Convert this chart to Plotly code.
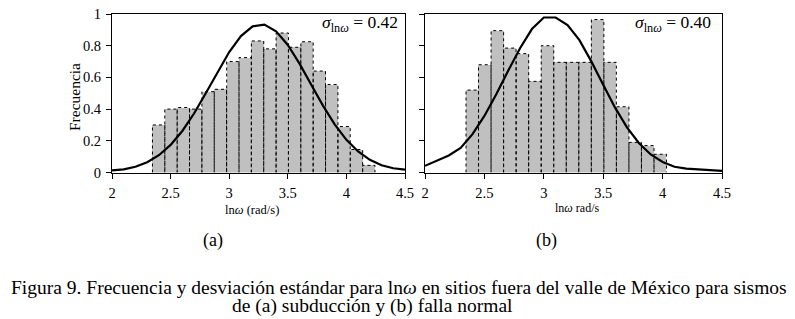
import plotly.graph_objects as go

# ---------------- data ----------------
x_ticks = [2, 2.5, 3, 3.5, 4, 4.5]
y_ticks = [0, 0.2, 0.4, 0.6, 0.8, 1]

# panel (a): subduccion
bin_centers_a = [2.398, 2.503, 2.609, 2.714, 2.820, 2.925, 3.031, 3.136, 3.242,
                 3.347, 3.453, 3.558, 3.664, 3.769, 3.875, 3.980, 4.086, 4.191]
freq_a = [0.30, 0.40, 0.41, 0.40, 0.51, 0.525, 0.70, 0.725, 0.83,
          0.78, 0.88, 0.79, 0.825, 0.64, 0.555, 0.29, 0.145, 0.045]
curve_x_a = [2.0, 2.1, 2.2, 2.3, 2.4, 2.5, 2.6, 2.7, 2.8, 2.9, 3.0, 3.1, 3.2,
             3.3, 3.4, 3.5, 3.6, 3.7, 3.8, 3.9, 4.0, 4.1, 4.2, 4.3, 4.4, 4.5]
curve_y_a = [0.014, 0.020, 0.036, 0.065, 0.109, 0.174, 0.262, 0.372, 0.500,
             0.634, 0.760, 0.861, 0.922, 0.933, 0.891, 0.805, 0.687, 0.554,
             0.422, 0.304, 0.206, 0.133, 0.080, 0.046, 0.027, 0.018]
sigma_a = "0.42"

# panel (b): falla normal
bin_centers_b = [2.398, 2.503, 2.609, 2.714, 2.820, 2.925, 3.031, 3.136,
                 3.242, 3.347, 3.453, 3.558, 3.664, 3.769, 3.875, 3.980]
freq_b = [0.52, 0.68, 0.895, 0.785, 0.75, 0.575, 0.80, 0.695,
          0.695, 0.695, 0.965, 0.695, 0.415, 0.19, 0.17, 0.115]
curve_x_b = [2.0, 2.2, 2.3, 2.4, 2.5, 2.6, 2.7, 2.8, 2.9, 3.0, 3.1, 3.2, 3.3,
             3.4, 3.5, 3.6, 3.7, 3.8, 3.9, 4.0, 4.1, 4.2, 4.5]
curve_y_b = [0.042, 0.107, 0.155, 0.242, 0.357, 0.494, 0.642, 0.784, 0.905,
             0.978, 0.978, 0.930, 0.835, 0.701, 0.553, 0.409, 0.285, 0.186,
             0.114, 0.066, 0.036, 0.025, 0.010]
sigma_b = "0.40"

caption_1 = "Figura 9. Frecuencia y desviación estándar para ln<i>ω</i> en sitios fuera del valle de México para sismos"
caption_2 = "de (a) subducción y (b) falla normal"

# ---------------- style ----------------
BIN_W = 0.1055
FONT = "Liberation Serif, Times New Roman, serif"
BAR_FILL = "#c0c0c0"
W, H = 795, 319


def px_x(p):
    return p / W


def px_y(p):
    return 1 - p / H


fig = go.Figure()


def add_panel(centers, freq, cx, cy, xa, ya):
    fig.add_trace(go.Bar(x=centers, y=freq, width=BIN_W, marker=dict(color=BAR_FILL, line=dict(width=0)),
                         xaxis=xa, yaxis=ya, showlegend=False, hoverinfo="skip"))
    ox, oy = [], []
    for c, h in zip(centers, freq):
        l, r = c - BIN_W / 2, c + BIN_W / 2
        ox += [l, l, r, r, None]
        oy += [0, h, h, 0, None]
    fig.add_trace(go.Scatter(x=ox, y=oy, mode="lines", line=dict(color="black", width=1, dash="dot"),
                             xaxis=xa, yaxis=ya, showlegend=False, hoverinfo="skip"))
    fig.add_trace(go.Scatter(x=cx, y=cy, mode="lines", line=dict(color="black", width=2.2),
                             xaxis=xa, yaxis=ya, showlegend=False, hoverinfo="skip"))


add_panel(bin_centers_a, freq_a, curve_x_a, curve_y_a, "x", "y")
add_panel(bin_centers_b, freq_b, curve_x_b, curve_y_b, "x2", "y2")

ydom = [px_y(172.5), px_y(14)]
axis_common = dict(showline=True, linecolor="black", linewidth=1, mirror=True, ticks="outside",
                   ticklen=5, tickcolor="black", tickwidth=1, showgrid=False, zeroline=False,
                   automargin=False, tickfont=dict(family=FONT, size=14.5, color="black"))

fig.update_layout(
    template="none",
    width=W, height=H, margin=dict(l=0, r=0, t=0, b=0, pad=0), autosize=False,
    font=dict(family=FONT, color="black"),
    paper_bgcolor="white", plot_bgcolor="white", barmode="overlay", bargap=0,
    xaxis=dict(domain=[px_x(112), px_x(405)], range=[2, 4.5], tickvals=x_ticks, anchor="y",
               ticklabelstandoff=2, **axis_common),
    yaxis=dict(domain=ydom, range=[0, 1], tickvals=y_ticks, anchor="x",
               ticklabelstandoff=2, **axis_common),
    xaxis2=dict(domain=[px_x(425), px_x(722)], range=[2, 4.5], tickvals=x_ticks, anchor="y2",
                ticklabelstandoff=2, **axis_common),
    yaxis2=dict(domain=ydom, range=[0, 1], tickvals=y_ticks, anchor="x2", showticklabels=False, **axis_common),
)


def label(x, y, text, size, xanchor="center", angle=0):
    return dict(x=px_x(x), y=px_y(y), xref="paper", yref="paper", text=text, textangle=angle,
                xanchor=xanchor, yanchor="middle", showarrow=False,
                font=dict(family=FONT, size=size, color="black"))


ann = [
    label(75, 97, "Frecuencia", 15.5, angle=-90),
    label(252, 210, "ln<i>ω</i> (rad/s)", 12.5),
    label(577, 208, "ln<i>ω</i> rad/s", 12),
    label(400, 24, "<i>σ</i><sub>ln<i>ω</i></sub> = " + sigma_a, 17.5, xanchor="right"),
    label(713, 24, "<i>σ</i><sub>ln<i>ω</i></sub> = " + sigma_b, 17.5, xanchor="right"),
    label(213, 240, "(a)", 18),
    label(546, 240, "(b)", 18),
    label(399, 287, caption_1, 19.5),
    label(372, 306, caption_2, 19.5),
]
fig.update_layout(annotations=ann)

fig.write_html("out.html", config={"displayModeBar": False},
               post_script="document.body.style.margin='0px';")
